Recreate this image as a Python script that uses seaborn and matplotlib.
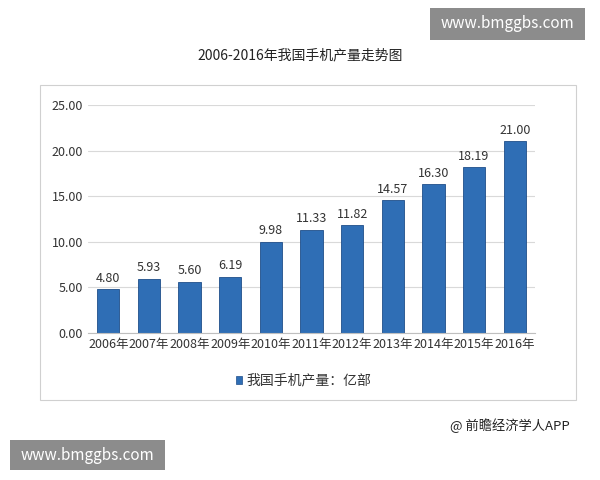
import matplotlib
matplotlib.use("Agg")
import matplotlib.pyplot as plt
import seaborn as sns
import pandas as pd
from matplotlib.patches import Rectangle

years = ["2006年","2007年","2008年","2009年","2010年","2011年","2012年","2013年","2014年","2015年","2016年"]
values = [4.80,5.93,5.60,6.19,9.98,11.33,11.82,14.57,16.30,18.19,21.00]
yticks = [0,5,10,15,20,25]

sns.set_style("white")
plt.rcParams['font.family'] = ['Noto Sans CJK SC', 'DejaVu Sans']

fig = plt.figure(figsize=(6,4.8), dpi=100)
fig.patches.append(Rectangle((40/600, 1-400/480), 536/600, 315/480, transform=fig.transFigure,
                             fill=False, edgecolor="#d0d0d0", lw=0.8))
ax = fig.add_axes([88/600, 1-333/480, 447/600, 228/480])
df = pd.DataFrame({"year": years, "val": values})
sns.barplot(data=df, x="year", y="val", ax=ax, color="#2F6EB5", width=0.55,
            edgecolor="#1F4E8A", linewidth=0.6, saturation=1)
ax.set_ylim(0, 25)
ax.set_yticks(yticks)
ax.set_yticklabels([f"{v:.2f}" for v in yticks], fontsize=9, color="#333333")
ax.tick_params(axis='x', labelsize=9, colors="#333333", length=0)
ax.tick_params(axis='y', length=0)
ax.yaxis.grid(True, color="#d9d9d9", lw=0.8)
ax.set_axisbelow(True)
for s in ["top","right","left"]:
    ax.spines[s].set_visible(False)
ax.spines["bottom"].set_color("#bfbfbf")
ax.set_xlabel(""); ax.set_ylabel("")
for i, v in enumerate(values):
    ax.text(i, v + 0.5, f"{v:.2f}", ha="center", va="bottom", fontsize=9, color="#333333")

fig.text(0.5, 1-55/480, "2006-2016年我国手机产量走势图", ha="center", va="center", fontsize=10, color="#222222")
fig.patches.append(Rectangle((236/600, 1-384/480), 6/600, 8/480, transform=fig.transFigure,
                             facecolor="#2F6EB5", edgecolor="#1F4E8A", lw=0.5))
fig.text(246/600, 1-380/480, "我国手机产量：亿部", ha="left", va="center", fontsize=10, color="#333333")
fig.text(450/600, 1-426/480, "@ 前瞻经济学人APP", ha="left", va="center", fontsize=9.5, color="#222222")

fig.patches.append(Rectangle((430/600, 1-40/480), 155/600, 32/480, transform=fig.transFigure,
                             facecolor="#8c8c8c", edgecolor="none"))
fig.text(507/600, 1-24/480, "www.bmggbs.com", ha="center", va="center", fontsize=11, color="white")
fig.patches.append(Rectangle((10/600, 1-470/480), 155/600, 30/480, transform=fig.transFigure,
                             facecolor="#8c8c8c", edgecolor="none"))
fig.text(87/600, 1-455/480, "www.bmggbs.com", ha="center", va="center", fontsize=11, color="white")

fig.savefig("out.png", dpi=100)
